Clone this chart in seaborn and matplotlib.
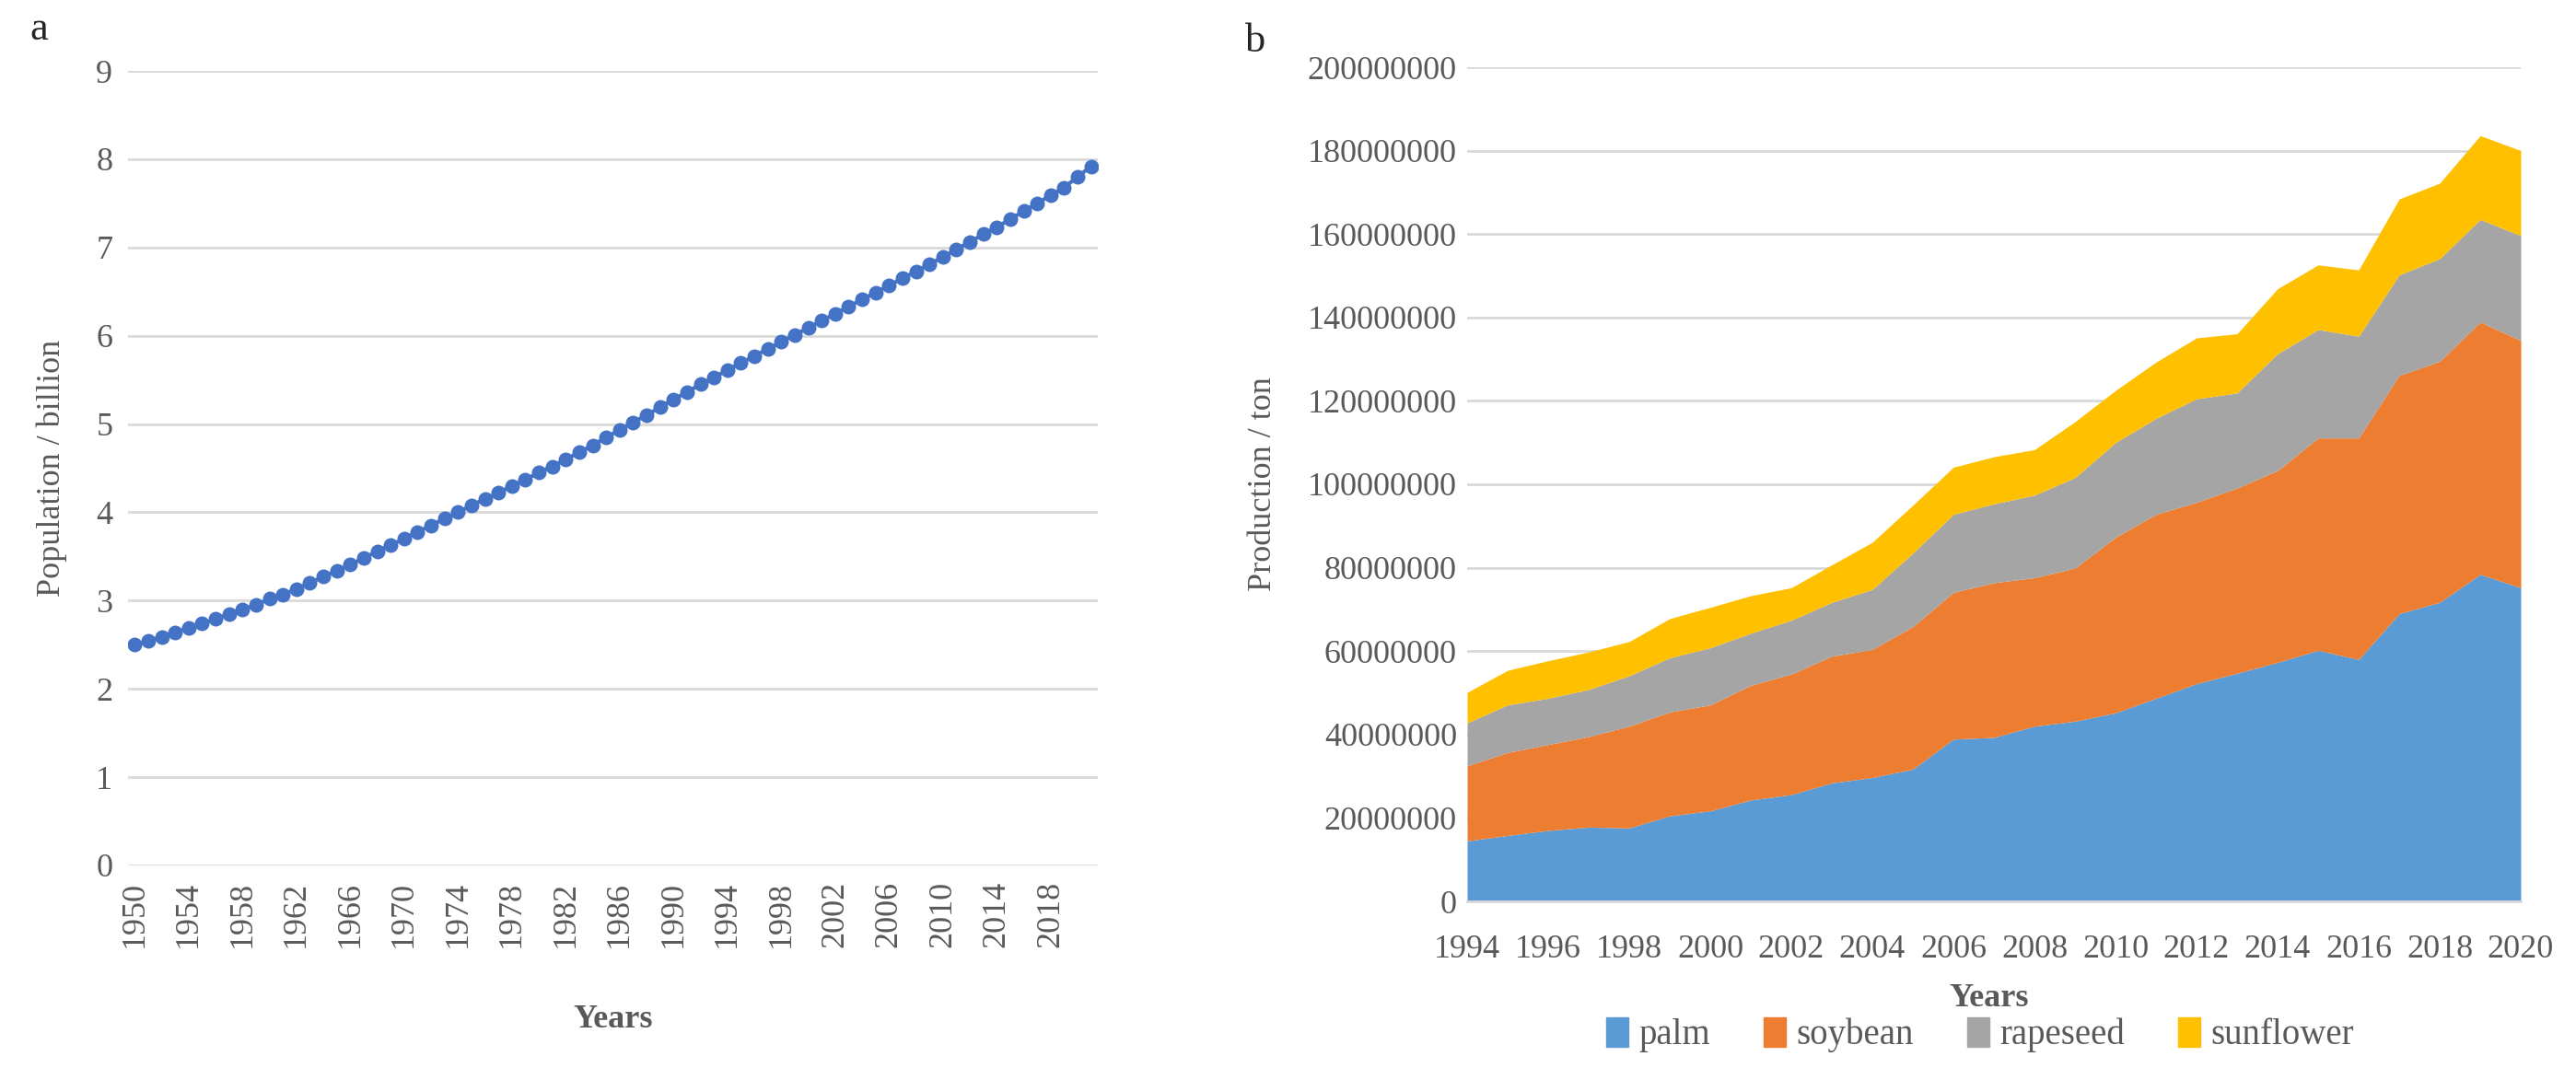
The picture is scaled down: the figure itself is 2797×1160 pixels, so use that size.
import numpy as np
import pandas as pd
import matplotlib.pyplot as plt
import matplotlib.patches as mpatches
import seaborn as sns

# panel a: world population (billion)
pop_years = list(range(1950, 2022))
population = [2.50, 2.54, 2.59, 2.64, 2.69, 2.74, 2.79, 2.85, 2.90, 2.95,
              3.02, 3.07, 3.13, 3.20, 3.27, 3.34, 3.41, 3.48, 3.56, 3.63,
              3.70, 3.78, 3.85, 3.93, 4.00, 4.08, 4.15, 4.22, 4.30, 4.37,
              4.45, 4.52, 4.60, 4.68, 4.76, 4.85, 4.93, 5.02, 5.10, 5.19,
              5.28, 5.36, 5.45, 5.53, 5.61, 5.69, 5.77, 5.85, 5.93, 6.01,
              6.09, 6.17, 6.25, 6.33, 6.41, 6.49, 6.57, 6.65, 6.73, 6.81,
              6.89, 6.98, 7.06, 7.15, 7.23, 7.32, 7.41, 7.50, 7.59, 7.68,
              7.80, 7.92]

# panel b: vegetable oil production (million ton)
oil_years = list(range(1994, 2021))
palm = [14.5, 15.8, 17.0, 17.8, 17.6, 20.5, 21.7, 24.3, 25.6, 28.4, 29.7, 31.7, 38.9, 39.3,
        42.0, 43.2, 45.2, 48.7, 52.2, 54.7, 57.3, 60.2, 58.0, 69.0, 71.7, 78.4, 75.2]
soybean = [18.0, 19.9, 20.6, 21.7, 24.4, 24.9, 25.4, 27.5, 28.9, 30.4, 30.7, 34.2, 35.2, 37.1,
           35.6, 36.7, 42.1, 44.1, 43.5, 44.4, 46.0, 50.9, 53.1, 57.1, 57.8, 60.5, 59.3]
rapeseed = [10.3, 11.4, 11.1, 11.3, 12.1, 13.0, 13.7, 12.5, 12.9, 12.9, 14.4, 17.6, 18.7, 18.9,
            19.8, 21.7, 22.7, 23.0, 24.8, 22.8, 28.0, 26.0, 24.4, 24.1, 24.6, 24.6, 25.1]
sunflower = [7.3, 8.3, 9.0, 9.0, 8.2, 9.4, 9.7, 9.0, 7.8, 9.0, 11.3, 11.5, 11.3, 11.3,
             10.9, 13.4, 12.5, 13.5, 14.6, 14.2, 15.6, 15.5, 15.9, 18.2, 18.1, 20.1, 20.4]
crops = ['palm', 'soybean', 'rapeseed', 'sunflower']
crop_colors = ['#5B9BD5', '#ED7D31', '#A5A5A5', '#FFC000']

sns.set_style('white')
plt.rcParams['font.family'] = ['Liberation Serif', 'DejaVu Serif']

TXT = '#595959'
GRID = '#D9D9D9'
FS = 26

fig = plt.figure(figsize=(27.97, 11.6), dpi=100)
W, H = 2797, 1160
ax1 = fig.add_axes([139 / W, 1 - 940 / H, (1192 - 139) / W, (940 - 77) / H])
ax2 = fig.add_axes([1593 / W, 1 - 979 / H, (2737 - 1593) / W, (979 - 73) / H])

# ---- panel a
df_pop = pd.DataFrame({'year': pop_years, 'pop': population})
sns.lineplot(data=df_pop, x='year', y='pop', ax=ax1, color='#4472C4', lw=3,
             marker='o', markersize=11.5, markeredgewidth=0)
ax1.set_xlim(1949.5, 2021.5)
ax1.set_ylim(0, 9)
ax1.set_yticks(range(0, 10))
ax1.set_xticks(range(1950, 2022, 4))
ax1.set_xticklabels([str(y) for y in range(1950, 2022, 4)], rotation=90)
ax1.grid(axis='y', color=GRID, lw=2)
for s in ax1.spines.values():
    s.set_visible(False)
ax1.tick_params(axis='both', length=0, labelsize=FS, labelcolor=TXT)
ax1.tick_params(axis='x', pad=12)
ax1.tick_params(axis='y', pad=12)
ax1.set_xlabel('Years', fontsize=FS, color=TXT, fontweight='bold')
ax1.xaxis.set_label_coords(0.5, -0.175)
ax1.set_ylabel('Population / billion', fontsize=FS, color=TXT)
ax1.yaxis.set_label_coords(-0.063, 0.5)

# ---- panel b
stack = np.array([palm, soybean, rapeseed, sunflower]) * 1e6
ax2.stackplot(oil_years, stack, colors=crop_colors, labels=crops, lw=0)
ax2.set_xlim(1994, 2020)
ax2.set_ylim(0, 200000000)
ax2.set_yticks(range(0, 200000001, 20000000))
ax2.set_yticklabels([str(v) for v in range(0, 200000001, 20000000)])
ax2.set_xticks(oil_years)
ax2.set_xticklabels([str(y) if y % 2 == 0 else '' for y in oil_years])
ax2.grid(axis='y', color=GRID, lw=2)
ax2.set_axisbelow(True)
for s in ['top', 'right', 'left']:
    ax2.spines[s].set_visible(False)
ax2.spines['bottom'].set_color(GRID)
ax2.spines['bottom'].set_linewidth(2)
ax2.tick_params(axis='y', length=0, labelsize=FS, labelcolor=TXT, pad=8)
ax2.tick_params(axis='x', length=10, width=1.5, color=GRID, direction='out',
                labelsize=FS, labelcolor=TXT, pad=16)
ax2.set_xlabel('Years', fontsize=FS, color=TXT, fontweight='bold')
ax2.xaxis.set_label_coords(0.495, -0.098)
ax2.set_ylabel('Production / ton', fontsize=FS, color=TXT)
ax2.yaxis.set_label_coords(-0.179, 0.5)

handles = [mpatches.Patch(color=c, label=l) for c, l in zip(crop_colors, crops)]
leg = fig.legend(handles=handles, loc='center', bbox_to_anchor=(2150 / W, 1 - 1124 / H),
                 ncol=4, frameon=False, fontsize=28, handlelength=0.6, handleheight=0.9,
                 handletextpad=0.3, columnspacing=1.5, borderpad=0.1)
for t in leg.get_texts():
    t.set_color(TXT)

fig.text(32 / W, 1 - 32 / H, 'a', fontsize=32, va='center', ha='left')
fig.text(1352 / W, 1 - 45 / H, 'b', fontsize=32, va='center', ha='left')

fig.savefig('out.png', dpi=100, facecolor='white')
